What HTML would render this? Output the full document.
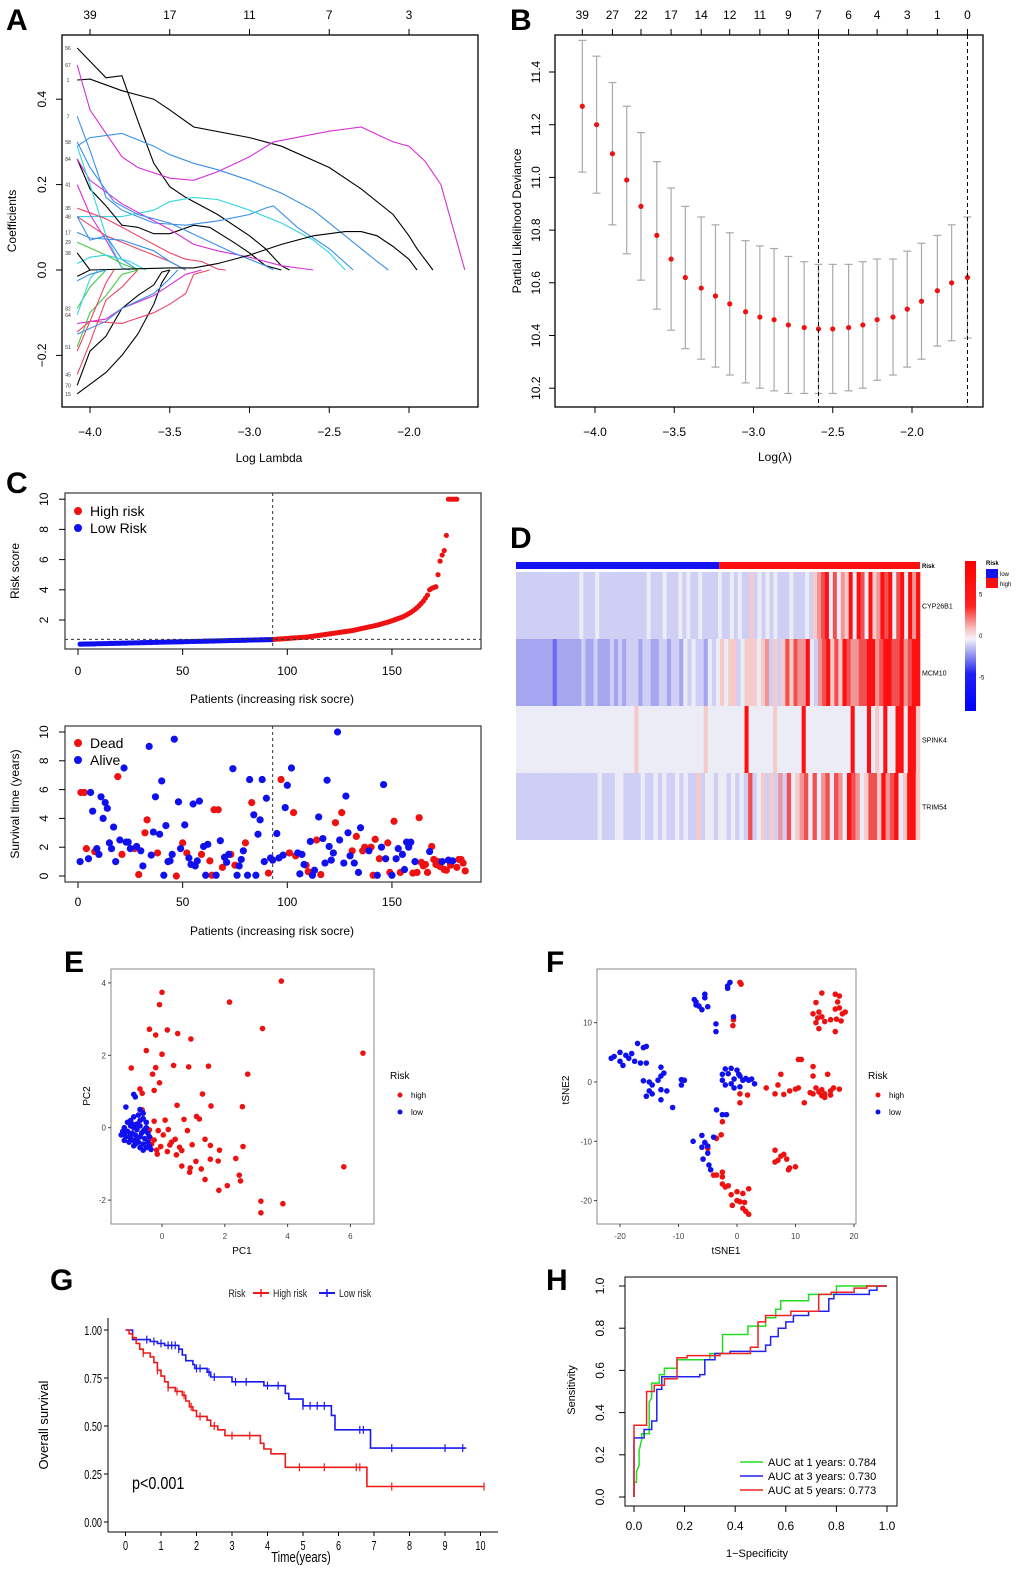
<!DOCTYPE html>
<html><head><meta charset="utf-8"><style>
html,body{margin:0;padding:0;background:#fff}
svg{display:block;font-family:"Liberation Sans",sans-serif}
</style></head><body>
<svg id="fig" width="1020" height="1571" viewBox="0 0 1020 1571" xmlns="http://www.w3.org/2000/svg"></svg>
<script>
// ---------- Panel A data ----------
const aTopLabels=["39","17","11","7","3"];
const aXTicks=[-4.0,-3.5,-3.0,-2.5,-2.0];
const aYTicks=[-0.2,0.0,0.2,0.4];
const aColors=["#000","#000","#d62fd6","#3a8ee8","#3a8ee8","#33d6e0","#000","#d62fd6","#3a8ee8","#d62fd6","#33d6e0","#ee4466","#ee4466","#3a8ee8","#3a8ee8","#44cc44","#33d6e0","#000","#000","#000","#000","#ee4466","#ee4466","#d62fd6","#44cc44","#44cc44","#33d6e0","#3a8ee8","#3a8ee8","#ee4466"];
const aPaths=[
[[-4.08,0.52],[-3.9,0.45],[-3.8,0.455],[-3.7,0.35],[-3.6,0.25],[-3.5,0.195],[-3.4,0.17],[-3.2,0.13],[-3.0,0.08],[-2.9,0.05],[-2.8,0.01],[-2.75,0]],
[[-4.08,0.445],[-4.0,0.447],[-3.8,0.42],[-3.6,0.4],[-3.5,0.375],[-3.35,0.335],[-3.0,0.31],[-2.8,0.29],[-2.5,0.24],[-2.3,0.19],[-2.1,0.13],[-2.0,0.08],[-1.95,0.05],[-1.85,0]],
[[-4.08,0.48],[-4.0,0.375],[-3.9,0.32],[-3.8,0.265],[-3.7,0.24],[-3.5,0.215],[-3.35,0.21],[-3.2,0.23],[-3.0,0.265],[-2.85,0.3],[-2.5,0.325],[-2.3,0.335],[-2.1,0.3],[-2.0,0.29],[-1.9,0.255],[-1.8,0.2],[-1.65,0]],
[[-4.08,0.29],[-4.0,0.31],[-3.8,0.32],[-3.6,0.29],[-3.5,0.27],[-3.35,0.25],[-3.2,0.235],[-3.0,0.21],[-2.8,0.18],[-2.6,0.14],[-2.4,0.08],[-2.3,0.05],[-2.2,0.02],[-2.13,0]],
[[-4.08,0.36],[-4.0,0.28],[-3.9,0.17],[-3.8,0.14],[-3.6,0.11],[-3.4,0.105],[-3.2,0.115],[-3.0,0.13],[-2.9,0.145],[-2.85,0.15],[-2.7,0.1],[-2.5,0.05],[-2.35,0]],
[[-4.08,0.125],[-3.8,0.125],[-3.6,0.14],[-3.5,0.16],[-3.35,0.17],[-3.2,0.165],[-3.0,0.14],[-2.8,0.11],[-2.6,0.07],[-2.5,0.04],[-2.4,0]],
[[-4.08,0.26],[-4.0,0.19],[-3.9,0.15],[-3.8,0.105],[-3.7,0.1],[-3.6,0.085],[-3.5,0.085],[-3.35,0.105],[-3.25,0.1],[-3.1,0.065],[-3.0,0.04],[-2.9,0.01],[-2.8,0]],
[[-4.08,0.26],[-4.0,0.21],[-3.8,0.155],[-3.6,0.115],[-3.5,0.095],[-3.35,0.06],[-3.2,0.045],[-3.0,0.03],[-2.8,0.01],[-2.6,0]],
[[-4.08,0.3],[-4.0,0.24],[-3.85,0.16],[-3.7,0.13],[-3.5,0.11],[-3.3,0.075],[-3.1,0.04],[-2.9,0.01],[-2.85,0]],
[[-4.08,0.2],[-4.0,0.13],[-3.9,0.07],[-3.8,0.005],[-3.75,0]],
[[-4.08,0.29],[-4.0,0.2],[-3.9,0.08],[-3.8,0.005],[-3.75,0]],
[[-4.08,0.145],[-3.9,0.12],[-3.7,0.08],[-3.5,0.04],[-3.4,0.025],[-3.3,0.02],[-3.2,0.002],[-3.15,0]],
[[-4.08,0.125],[-3.9,0.08],[-3.7,0.05],[-3.5,0.02],[-3.4,0]],
[[-4.08,0.088],[-4.0,0.075],[-3.8,0.07],[-3.6,0.045],[-3.5,0.02],[-3.4,0]],
[[-4.08,0.125],[-4.0,0.07],[-3.9,0.08],[-3.8,0.025],[-3.7,0]],
[[-4.08,0.065],[-3.9,0.035],[-3.8,0.015],[-3.7,0]],
[[-4.08,0.015],[-4.0,0.03],[-3.9,0.035],[-3.75,0.02],[-3.65,0]],
[[-4.08,-0.015],[-4.0,0.0],[-3.5,0.005],[-3.35,0.005],[-3.2,0.015],[-3.0,0.035],[-2.8,0.06],[-2.6,0.08],[-2.4,0.09],[-2.3,0.09],[-2.2,0.08],[-2.1,0.055],[-2.0,0.025],[-1.95,0]],
[[-4.08,-0.29],[-3.9,-0.24],[-3.8,-0.2],[-3.7,-0.15],[-3.6,-0.08],[-3.55,-0.03],[-3.5,0]],
[[-4.08,-0.27],[-4.0,-0.19],[-3.9,-0.155],[-3.8,-0.09],[-3.7,-0.06],[-3.6,-0.035],[-3.55,-0.005],[-3.5,0]],
[[-4.08,0.04],[-4.0,0.0]],
[[-4.08,-0.245],[-4.0,-0.17],[-3.9,-0.07],[-3.8,-0.04],[-3.7,0]],
[[-4.08,-0.19],[-4.0,-0.12],[-3.8,-0.125],[-3.6,-0.1],[-3.5,-0.08],[-3.4,-0.055],[-3.35,-0.01],[-3.25,0]],
[[-4.08,-0.125],[-3.9,-0.115],[-3.8,-0.09],[-3.6,-0.06],[-3.5,-0.035],[-3.4,-0.01],[-3.3,0]],
[[-4.08,-0.18],[-4.0,-0.1],[-3.9,-0.06],[-3.8,-0.01],[-3.7,0]],
[[-4.08,-0.09],[-4.0,-0.04],[-3.9,0]],
[[-4.08,-0.105],[-4.0,-0.02],[-3.95,0]],
[[-4.08,-0.15],[-3.9,-0.12],[-3.8,-0.09],[-3.6,-0.055],[-3.5,-0.02],[-3.45,0]],
[[-4.08,-0.025],[-4.0,-0.01],[-3.9,0]],
[[-4.08,-0.145],[-4.0,-0.12],[-3.9,-0.03],[-3.85,0]]
];
const aVarLabels=["56","67","1","7","58","84","41","35","48","17","29","38","82","64","51","45","70","15"];
const aVarVals=[0.52,0.48,0.445,0.36,0.30,0.26,0.2,0.145,0.125,0.088,0.065,0.04,-0.09,-0.105,-0.18,-0.245,-0.27,-0.29];
// ---------- Panel B data ----------
const bLambda=[-4.08,-3.99,-3.89,-3.80,-3.71,-3.61,-3.52,-3.43,-3.33,-3.24,-3.15,-3.05,-2.96,-2.87,-2.78,-2.68,-2.59,-2.50,-2.40,-2.31,-2.22,-2.12,-2.03,-1.94,-1.84,-1.75,-1.65];
const bDev=[11.27,11.20,11.09,10.99,10.89,10.78,10.69,10.62,10.58,10.55,10.52,10.49,10.47,10.46,10.44,10.43,10.425,10.425,10.43,10.44,10.46,10.47,10.50,10.53,10.57,10.60,10.62];
const bSE=[0.25,0.26,0.27,0.28,0.28,0.28,0.27,0.27,0.27,0.27,0.27,0.27,0.27,0.27,0.26,0.25,0.245,0.245,0.24,0.24,0.23,0.22,0.22,0.22,0.21,0.22,0.23];
const bTopLabels=["39","27","22","17","14","12","11","9","7","6","4","3","1","0"];
const bXTicks=[-4.0,-3.5,-3.0,-2.5,-2.0];
const bYTicks=[10.2,10.4,10.6,10.8,11.0,11.2,11.4];
const bMinLambda=-2.59, bSeLambda=-1.65;
// ---------- Panel C data ----------
const cRisk=[0.40,0.40,0.41,0.41,0.41,0.42,0.42,0.42,0.43,0.43,0.43,0.44,0.44,0.44,0.45,0.45,0.45,0.46,0.46,0.46,0.47,0.47,0.47,0.48,0.48,0.48,0.49,0.49,0.49,0.50,0.50,0.50,0.51,0.51,0.51,0.52,0.52,0.52,0.53,0.53,0.53,0.54,0.54,0.54,0.55,0.55,0.55,0.56,0.56,0.56,0.57,0.57,0.57,0.58,0.58,0.58,0.59,0.59,0.59,0.60,0.60,0.60,0.61,0.61,0.61,0.62,0.62,0.62,0.63,0.63,0.63,0.64,0.64,0.64,0.65,0.65,0.65,0.66,0.66,0.66,0.67,0.67,0.67,0.68,0.68,0.68,0.69,0.69,0.69,0.70,0.70,0.70,0.71,
0.72,0.73,0.74,0.75,0.76,0.77,0.78,0.79,0.80,0.81,0.82,0.83,0.84,0.85,0.86,0.87,0.88,0.90,0.92,0.94,0.96,0.98,1.00,1.02,1.04,1.06,1.08,1.10,1.12,1.14,1.16,1.18,1.20,1.22,1.24,1.26,1.28,1.30,1.33,1.36,1.39,1.42,1.45,1.48,1.51,1.54,1.57,1.60,1.63,1.66,1.70,1.74,1.78,1.82,1.86,1.90,1.95,2.00,2.05,2.10,2.15,2.20,2.27,2.34,2.42,2.50,2.60,2.70,2.82,2.95,3.10,3.25,3.45,3.65,4.00,4.10,4.15,4.20,5.00,5.90,6.30,6.60,7.60,10,10,10,10,10];
const cCut=93;
const deadP=[1.4,3,4,8,19,21,27,29,32,33,38,47,50,52,59,63,64,65,67,69,73,75,80,83,91,97,101,103,104,109,110,114,116,123,126,131,133,136,137,140,141,142,144,148,149,151,154,160,162,163,164,165,166,167,169,170,171,172,173,175,176,178,181,182,183,184,185];
const deadT=[5.8,5.8,1.9,1.7,6.9,1.5,1.9,0.1,3.0,3.9,1.6,0,2.3,1.6,1.5,1.05,0.05,4.6,4.6,0.6,1.5,0.75,2.3,5.1,0.2,6.7,1.6,4.4,1.4,0.75,0.3,2.5,0.1,3.7,4.4,1.75,2.75,1.75,2.0,2.0,0.05,2.55,1.2,2.3,0.25,3.8,0.25,0.2,0.25,4.05,0.95,0.7,0.8,0.25,2.05,1.15,0.8,1.0,0.65,0.45,0.4,0.75,0.6,1.15,1.15,0.9,0.35];
const aliveP=[1,5,6,7,9,10,11,12,13,14,15,16,17,18,20,22,23,24,25,28,30,31,34,35,36,37,39,40,41,42,43,44,45,46,48,49,51,53,54,55,56,57,58,60,61,62,66,68,70,71,72,74,76,77,78,79,81,82,84,85,86,87,88,89,90,92,93,95,96,98,99,100,102,105,106,107,108,111,112,113,115,117,118,119,120,121,122,124,125,127,128,129,130,132,134,135,139,143,145,146,147,150,152,153,155,156,157,158,159,161,168,174,177,179];
const aliveT=[1.0,1.2,5.8,4.5,1.9,1.5,5.5,4.0,5.1,4.7,2.3,1.9,3.4,1.0,2.5,7.5,2.35,2.35,1.9,2.05,1.75,0.7,9.0,1.45,3.05,5.5,2.9,6.6,0.05,3.5,1.0,1.05,1.5,9.5,5.15,1.9,3.55,1.25,0.8,5.0,0.7,1.05,5.2,2.05,0.05,2.2,0.05,2.45,1.3,0.95,1.5,7.45,0.05,0.7,1.15,1.75,0.05,6.7,4.25,0.05,2.9,3.9,6.7,1.0,5.4,1.25,1.1,2.95,1.25,1.45,4.75,6.3,7.5,1.6,0.15,1.5,0.8,2.4,0.05,0.4,4.1,2.6,0.9,6.65,2.05,1.1,1.6,10.0,2.5,0.9,5.55,3.0,1.4,0.9,0.25,3.35,1.75,0.05,2.0,6.35,1.2,0.05,1.2,1.9,1.5,0.45,2.35,2.0,2.35,1.0,1.7,1.0,1.1,1.05];
// ---------- Panel D data (level 0..8 per column, 4 = neutral) ----------
const dGenes=["CYP26B1","MCM10","SPINK4","TRIM54"];
const dLevels=[
"3333333333333333433343333333333334333433343433433"+"3343343433534343433343334"+"3567847465848748568784784868",
"2222222221222222322322232323332332233233243433243"+"4545534555456353575766843"+"6785758766778867887786788",
"4444444444444444444444444444454444444444444444544"+"44444448444444544444484444444444484448454844884885",
"333333333333333333343334433334334343343433534434"+"4343437345353637456747467476487645775867845885"];
const dLowFrac=0.503;
const dScaleTicks=[5,0,-5];
// ---------- Panel E data ----------
const eHighX=[3.8,0,-0.08,2.15,3.2,-0.4,0.17,-0.2,0.5,0.92,6.4,-0.5,0,-0.98,-0.2,0.37,0.85,1.48,-0.3,2.73,-0.08,-0.25,-0.7,-0.63,1.29,0.48,1.56,2.56,-0.63,1.1,-0.25,0.1,0.7,1.19,-0.12,0.2,0.81,-0.4,0.04,0.42,1.37,-0.25,-0.33,-0.04,0.25,0.56,0.96,1.54,2.58,-0.15,0.17,0.46,0.63,1.83,1.54,1.08,2.35,1.79,0.63,0.9,1.25,0.88,1.37,2.46,2.5,5.79,2.08,1.81,3.15,3.85,3.15,0.3,-0.17,-0.37];
const eHighY=[4.05,3.74,3.4,3.47,2.74,2.72,2.7,2.56,2.6,2.45,2.06,2.13,2.03,1.65,1.66,1.72,1.68,1.7,1.48,1.48,1.24,1.03,1.07,0.95,0.93,0.62,0.6,0.58,0.49,0.31,0.18,0.21,0.23,0.24,-0.08,-0.05,-0.08,-0.06,-0.2,-0.32,-0.32,-0.34,-0.45,-0.52,-0.48,-0.54,-0.47,-0.49,-0.52,-0.73,-0.66,-0.75,-0.63,-0.62,-0.87,-0.93,-0.85,-0.92,-1.06,-1.11,-1.14,-1.23,-1.43,-1.31,-1.47,-1.08,-1.6,-1.73,-2.03,-2.1,-2.35,-0.4,-0.62,-0.29];
const eLowX=[-0.9,-0.85,-1.15,-0.7,-0.6,-0.75,-0.9,-1.0,-0.6,-0.5,-0.8,-1.0,-1.2,-0.9,-0.7,-0.5,-1.25,-1.1,-0.95,-0.8,-0.6,-0.45,-1.3,-1.15,-1.0,-0.85,-0.7,-0.55,-0.4,-1.2,-1.05,-0.9,-0.75,-0.6,-0.45,-0.9,-0.7,-0.5,-0.35,-0.6,-1.1,-1.2,-0.65,-0.85,-0.55,-0.4,-1.0,-0.8,-0.7,-0.95];
const eLowY=[0.92,0.85,0.57,0.5,0.4,0.35,0.3,0.2,0.25,0.15,0.1,0.05,0,0,0.05,0,-0.1,-0.1,-0.15,-0.05,-0.1,-0.15,-0.2,-0.25,-0.3,-0.2,-0.25,-0.3,-0.25,-0.35,-0.4,-0.35,-0.4,-0.45,-0.4,-0.5,-0.55,-0.55,-0.6,-0.62,0.15,-0.15,-0.15,-0.45,-0.05,-0.5,-0.2,-0.3,0.2,0.1];
const eXTicks=[0,2,4,6], eYTicks=[-2,0,2,4];
// ---------- Panel F data ----------
const fLowX=[-7,-6.5,-7,-5.5,-5.5,-6,-5,-7.3,-1.6,-1.2,-1.6,-3.6,-3.6,-0.6,-21.5,-21,-20,-20,-19.5,-19,-18.5,-18,-17.5,-17,-16.5,-16,-15.5,-15.5,-13,-12.5,-13,-13.5,-15,-14.5,-16,-15,-13,-12,-14.5,-15.5,-13,-11,-9.5,-9,-9.5,-2,-2.5,-2.5,-1.5,-1,-1,-0.5,0,0.3,-2,0.5,1,1.5,2,2.5,3,-0.5,0.5,-3.5,-2.5,-1.8,-7.5,-6,-5.5,-4,-6,-5,-5.8,-4.8,-4.5,-5];
const fLowY=[13.5,12.8,13,14.8,14.2,12.2,12.7,13.9,16.2,16.8,15.8,9.8,8.5,11,4,4.3,5,3.5,2.8,4.5,4,4.8,3.5,6.5,3.2,5.8,6,3.2,2.5,1.5,1,0.3,0,-0.5,0.2,-1.5,-1.3,-1.5,-2,-2.4,-3,-4.3,0.4,0.3,-0.5,2.2,1.3,0.3,1.4,2.3,-0.3,0.5,2,1.3,-0.5,-0.8,0.3,0.6,0.3,0.5,-0.3,-1,1,-4.7,-5.5,-5.5,-10,-9,-10.2,-9.3,-11,-12,-13,-14,-14.8,-10.8];
const fHighX=[14.5,16.8,17.5,13.5,17.2,17.5,16.8,18.5,13,14,14.5,15,16,17,13.5,14,16.8,18,13.8,17.8,0.5,0.7,-0.6,-0.7,0.5,1.8,0.5,5,6.5,7,8,7.5,9,10,10.5,10.5,11,11.5,13,13,13.5,13,14,14.5,15,15.5,16,16.5,17.5,14.5,15,16,12.5,6.5,7.5,8,6.5,7,8.5,9,8.8,10,-3.5,-2.7,-2.5,-5,-4,-3.5,-2.5,-2.5,-2.5,-2,-1,0,1,2,-0.8,0,0.5,1.3,1,1.5,2,-1.5];
const fHighY=[15,14.8,14.5,13.4,13.5,12.5,12.3,11.8,11.5,11.8,11,10.2,10.5,10.6,10,9,8.5,11.5,10.8,10.3,16.8,16.5,10.5,9.5,-2,-2.2,-3.5,-1,-2,-0.5,-2.1,1.3,-1.5,-1.2,-1,3.8,3.8,-3.5,2.6,1,-1,-2,-1.7,-2.3,-2,1.3,-1.5,-1,-1.2,-1.3,-2.6,-2.2,-1.8,-11.5,-12.5,-12.2,-13.5,-13.2,-13,-14.5,-14.8,-14.3,-9.5,-8.9,-6.7,-11.2,-15.7,-15.7,-15.2,-16,-17.2,-17.7,-19,-18.5,-18.8,-18,-20.8,-20,-20.2,-20.3,-21.3,-21.8,-22.3,-17.5];
const fXTicks=[-20,-10,0,10,20], fYTicks=[10,0,-10,-20];
// ---------- Panel G data ----------
const gHighT=[0,0.1,0.2,0.3,0.4,0.5,0.7,0.8,0.9,1.0,1.1,1.2,1.4,1.6,1.7,1.8,1.9,2.0,2.3,2.4,2.6,2.8,3.8,3.9,4.1,4.5,6.8,10.1];
const gHighS=[1,0.98,0.96,0.93,0.9,0.88,0.86,0.83,0.79,0.76,0.73,0.7,0.68,0.66,0.63,0.6,0.58,0.55,0.53,0.5,0.48,0.45,0.41,0.38,0.355,0.285,0.185,0.185];
const gLowT=[0,0.2,0.7,0.9,1.1,1.5,1.6,1.7,1.9,1.95,2.3,2.4,3.0,3.9,4.5,4.6,5.0,5.8,5.9,6.9,9.6];
const gLowS=[1,0.95,0.94,0.93,0.92,0.9,0.87,0.84,0.82,0.8,0.78,0.755,0.73,0.71,0.67,0.64,0.605,0.555,0.48,0.385,0.385];
const gHighCens=[0.5,0.9,1.2,1.45,1.65,1.85,2.1,2.5,3.0,3.5,4.9,5.6,6.5,6.6,7.5,10.1];
const gLowCens=[0.6,0.8,1.0,1.2,1.3,1.4,1.5,2.0,2.1,2.35,2.5,3.1,3.4,4.0,4.3,5.0,5.2,5.4,5.6,6.6,6.7,7.5,9.0,9.5];
const gXTicks=[0,1,2,3,4,5,6,7,8,9,10];
const gYTicks=[0,0.25,0.5,0.75,1.0];
const gYLabels=["0.00","0.25","0.50","0.75","1.00"];
// ---------- Panel H data ----------
const hFpr1=[0,0,0.01,0.01,0.02,0.02,0.03,0.03,0.06,0.06,0.07,0.07,0.1,0.1,0.12,0.12,0.17,0.17,0.3,0.3,0.35,0.35,0.45,0.45,0.52,0.52,0.56,0.56,0.58,0.58,0.69,0.69,0.8,0.8,1];
const hTpr1=[0,0.07,0.07,0.12,0.15,0.22,0.27,0.3,0.3,0.45,0.47,0.54,0.54,0.58,0.58,0.61,0.61,0.65,0.65,0.68,0.68,0.77,0.77,0.81,0.81,0.85,0.85,0.89,0.89,0.93,0.93,0.96,0.96,1,1];
const hFpr3=[0,0,0.04,0.04,0.07,0.07,0.09,0.09,0.11,0.11,0.26,0.26,0.28,0.28,0.32,0.32,0.38,0.38,0.52,0.52,0.54,0.54,0.57,0.57,0.6,0.6,0.63,0.63,0.69,0.69,0.77,0.77,0.79,0.79,0.93,0.93,0.96,0.96,1];
const hTpr3=[0,0.28,0.28,0.32,0.32,0.36,0.36,0.51,0.51,0.57,0.57,0.58,0.58,0.65,0.65,0.68,0.68,0.69,0.69,0.72,0.72,0.76,0.76,0.8,0.8,0.83,0.83,0.86,0.86,0.88,0.88,0.94,0.94,0.96,0.96,0.98,0.98,1,1];
const hFpr5=[0,0,0.05,0.05,0.08,0.08,0.12,0.12,0.17,0.17,0.21,0.21,0.34,0.34,0.46,0.46,0.49,0.49,0.52,0.52,0.62,0.62,0.73,0.73,0.78,0.78,0.87,0.87,0.92,0.92,1];
const hTpr5=[0,0.34,0.34,0.5,0.5,0.53,0.53,0.56,0.56,0.66,0.66,0.67,0.67,0.68,0.68,0.71,0.71,0.83,0.83,0.86,0.86,0.88,0.88,0.96,0.96,0.97,0.97,0.99,0.99,1,1];
const hAUC=["0.784","0.730","0.773"];
const hTicks=[0,0.2,0.4,0.6,0.8,1.0];

// ---------- helpers ----------
const NS="http://www.w3.org/2000/svg";
const svg=document.getElementById('fig');
function el(tag,attrs,name,parent,inter){
  const e=document.createElementNS(NS,tag);
  for(const k in attrs)e.setAttribute(k,attrs[k]);
  
  
  (parent||svg).appendChild(e);return e;
}
function grp(name){return el('g',{},name,svg);}
function txt(x,y,s,size,name,p,extra){
  const a=Object.assign({x:x,y:y,'font-size':size,fill:'#000'},extra||{});
  const t=el('text',a,name,p);t.textContent=s;return t;
}
function line(x1,y1,x2,y2,name,p,stroke,w,dash){
  const a={x1:x1,y1:y1,x2:x2,y2:y2,stroke:stroke||'#000','stroke-width':w||1};
  if(dash)a['stroke-dasharray']=dash;
  return el('line',a,name,p);
}
function rect(x,y,w,h,name,p,fill,stroke,sw){return el('rect',{x:x,y:y,width:w,height:h,fill:fill||'none',stroke:stroke||'none','stroke-width':sw||1},name,p);}
function dot(x,y,r,fill,name,p){return el('circle',{cx:x,cy:y,r:r,fill:fill},name,p);}
function poly(pts,name,p,stroke,w){return el('polyline',{points:pts.map(q=>q[0].toFixed(1)+','+q[1].toFixed(1)).join(' '),fill:'none',stroke:stroke,'stroke-width':w||1},name,p);}
function letter(x,y,s){txt(x,y,s,30,'panel-label-'+s.toLowerCase(),svg,{'font-weight':'bold'});}

// ---------- Panel A ----------
(function(){
  const g=grp('panel-a-coefficient-paths');
  const xA=v=>90+(v+4)*159.5, yA=v=>270-v*427;
  letter(6,30,'A');
  aPaths.forEach((p,i)=>poly(p.map(q=>[xA(q[0]),yA(q[1])]),'coef-path-'+(i+1),g,aColors[i],1.1));
  rect(62,35,416,372,'plot-frame',g,'none','#000',1.3);
  aXTicks.forEach((v,i)=>{line(xA(v),407,xA(v),413,'x-tick',g);txt(xA(v),436,v.toFixed(1).replace('-','\u2212'),12,'x-tick-label',g,{'text-anchor':'middle'});
    line(xA(v),35,xA(v),29,'top-tick',g);txt(xA(v),19,aTopLabels[i],12,'top-tick-label',g,{'text-anchor':'middle'});});
  aYTicks.forEach(v=>{line(62,yA(v),56,yA(v),'y-tick',g);txt(46,yA(v),v.toFixed(1).replace('-','\u2212'),12,'y-tick-label',g,{'text-anchor':'middle',transform:`rotate(-90 46 ${yA(v)})`});});
  aVarLabels.forEach((s,i)=>txt(68,yA(aVarVals[i])+2,s,5,'variable-label',g,{'text-anchor':'middle',fill:'#333'}));
  txt(269,462,'Log Lambda',12,'x-axis-title',g,{'text-anchor':'middle'});
  txt(16,221,'Coefficients',12,'y-axis-title',g,{'text-anchor':'middle',transform:'rotate(-90 16 221)'});
})();

// ---------- Panel B ----------
(function(){
  const g=grp('panel-b-cv-deviance');
  const xB=v=>595+(v+4)*158.5, yB=v=>72+(11.4-v)*263.5;
  letter(510,30,'B');
  bLambda.forEach((l,i)=>{const x=xB(l),t=yB(bDev[i]+bSE[i]),b=yB(bDev[i]-bSE[i]);
    line(x,t,x,b,'error-bar',g,'#aaa',1.2);line(x-4,t,x+4,t,'error-cap',g,'#aaa',1.2);line(x-4,b,x+4,b,'error-cap',g,'#aaa',1.2);});
  bLambda.forEach((l,i)=>dot(xB(l),yB(bDev[i]),2.6,'#ee1111','deviance-point',g));
  line(xB(bMinLambda),35,xB(bMinLambda),407,'lambda-min-line',g,'#000',1,'4,3');
  line(xB(bSeLambda),35,xB(bSeLambda),407,'lambda-1se-line',g,'#000',1,'4,3');
  rect(555,35,428,372,'plot-frame',g,'none','#000',1.3);
  bXTicks.forEach(v=>{line(xB(v),407,xB(v),413,'x-tick',g);txt(xB(v),436,v.toFixed(1).replace('-','\u2212'),12,'x-tick-label',g,{'text-anchor':'middle'});});
  bTopLabels.forEach((s,i)=>{const x=xB(bLambda[i*2]);line(x,35,x,29,'top-tick',g);txt(x,19,s,12,'top-tick-label',g,{'text-anchor':'middle'});});
  bYTicks.forEach(v=>{line(555,yB(v),549,yB(v),'y-tick',g);txt(540,yB(v),v.toFixed(1),12,'y-tick-label',g,{'text-anchor':'middle',transform:`rotate(-90 540 ${yB(v)})`});});
  txt(775,461,'Log(\u03bb)',12,'x-axis-title',g,{'text-anchor':'middle'});
  txt(521,221,'Partial Likelihood Deviance',12,'y-axis-title',g,{'text-anchor':'middle',transform:'rotate(-90 521 221)'});
})();

// ---------- Panel C ----------
(function(){
  const g=grp('panel-c-risk-plots');
  const xC=p=>78+p*2.093, y1=v=>620-(v-2)*15.1, y2=t=>876-t*14.4;
  letter(6,493,'C');
  cRisk.forEach((v,i)=>dot(xC(i+1),y1(v),2.6,i<cCut?'#1010ee':'#ee1111','risk-point',g));
  line(65,y1(0.72),481,y1(0.72),'cutoff-hline',g,'#333',1,'3,3');
  line(xC(cCut),493,xC(cCut),649,'cutoff-vline',g,'#333',1,'3,3');
  rect(65,493,416,156,'risk-frame',g,'none','#444',1.3);
  [2,4,6,8,10].forEach(v=>{line(65,y1(v),59,y1(v),'y-tick',g);txt(48,y1(v),String(v),12,'y-tick-label',g,{'text-anchor':'middle',transform:`rotate(-90 48 ${y1(v)})`});});
  [0,50,100,150].forEach(v=>{line(xC(v),649,xC(v),655,'x-tick',g);txt(xC(v),675,String(v),12,'x-tick-label',g,{'text-anchor':'middle'});
    line(xC(v),882,xC(v),888,'x-tick',g);txt(xC(v),906,String(v),12,'x-tick-label',g,{'text-anchor':'middle'});});
  dot(78,511,4,'#ee1111','legend-high-dot',g);txt(90,516,'High risk',14,'legend-high-label',g);
  dot(78,528,4,'#1010ee','legend-low-dot',g);txt(90,533,'Low Risk',14,'legend-low-label',g);
  txt(272,703,'Patients (increasing risk socre)',12,'x-axis-title',g,{'text-anchor':'middle'});
  txt(19,571,'Risk score',12,'y-axis-title',g,{'text-anchor':'middle',transform:'rotate(-90 19 571)'});
  deadP.forEach((p,i)=>dot(xC(p),y2(deadT[i]),3.6,'#ee1111','dead-point',g));
  aliveP.forEach((p,i)=>dot(xC(p),y2(aliveT[i]),3.6,'#1010ee','alive-point',g));
  line(xC(cCut),726,xC(cCut),882,'cutoff-vline-2',g,'#333',1,'3,3');
  rect(65,726,416,156,'survival-frame',g,'none','#444',1.3);
  [0,2,4,6,8,10].forEach(v=>{line(65,y2(v),59,y2(v),'y-tick',g);txt(48,y2(v),String(v),12,'y-tick-label',g,{'text-anchor':'middle',transform:`rotate(-90 48 ${y2(v)})`});});
  dot(78,743,4,'#ee1111','legend-dead-dot',g);txt(90,748,'Dead',14,'legend-dead-label',g);
  dot(78,760,4,'#1010ee','legend-alive-dot',g);txt(90,765,'Alive',14,'legend-alive-label',g);
  txt(272,935,'Patients (increasing risk socre)',12,'x-axis-title-2',g,{'text-anchor':'middle'});
  txt(19,804,'Survival time (years)',12,'y-axis-title-2',g,{'text-anchor':'middle',transform:'rotate(-90 19 804)'});
})();

// ---------- Panel D ----------
(function(){
  const g=grp('panel-d-heatmap');
  letter(510,548,'D');
  const X0=516,W=404,rowH=67,Y0=572;
  const cols=['#1515f5','#6a6af2','#a6a6f0','#cfcff6','#ececf7','#f7caca','#f29494','#f05050','#ff1010'];
  const lowW=W*dLowFrac;
  rect(X0,562,lowW,7,'risk-bar-low',g,'#1414f0');
  rect(X0+lowW,562,W-lowW,7,'risk-bar-high',g,'#ff1010');
  txt(922,568,'Risk',6,'risk-bar-label',g,{'font-weight':'bold'});
  dLevels.forEach((s,r)=>{const cw=W/s.length;
    for(let i=0;i<s.length;i++){rect(X0+i*cw,Y0+r*rowH,cw+0.3,rowH,'heat-cell',g,cols[+s[i]]);}
    txt(922,Y0+r*rowH+rowH/2+3,dGenes[r],7,'gene-label',g);});
  const grad=el('linearGradient',{id:'hg',x1:0,y1:0,x2:0,y2:1},'color-scale-gradient',svg);
  [['0','#ff0000'],['0.3','#ff2020'],['0.45','#f7c0c0'],['0.52','#f3f3f8'],['0.62','#9a9af0'],['0.75','#2020f5'],['1','#0000ff']].forEach(q=>el('stop',{offset:q[0],'stop-color':q[1]},'gradient-stop',grad));
  rect(965,561,11,150,'color-scale',g,'url(#hg)');
  const ys=v=>636-v*8.3;
  dScaleTicks.forEach(v=>txt(979,ys(v)+2,String(v),6,'color-scale-label',g));
  txt(986,565,'Risk',6,'legend-title',g,{'font-weight':'bold'});
  rect(986,569,12,9,'legend-low-swatch',g,'#1414f0');txt(1000,576,'low',6,'legend-low-label',g);
  rect(986,578,12,10,'legend-high-swatch',g,'#ff1010');txt(1000,586,'high',6,'legend-high-label',g);
})();

// ---------- Panel E ----------
(function(){
  const g=grp('panel-e-pca');
  letter(64,972,'E');
  const xE=v=>162+v*31.4, yE=v=>1127.7-v*36.2;
  eHighX.forEach((v,i)=>dot(xE(v),yE(eHighY[i]),2.8,'#ee1111','pca-high-point',g));
  eLowX.forEach((v,i)=>dot(xE(v),yE(eLowY[i]),2.8,'#1010ee','pca-low-point',g));
  rect(111,969,263,255,'plot-frame',g,'none','#888',1);
  eXTicks.forEach(v=>{line(xE(v),1224,xE(v),1227,'x-tick',g,'#444');txt(xE(v),1239,String(v),8,'x-tick-label',g,{'text-anchor':'middle',fill:'#444'});});
  eYTicks.forEach(v=>{line(111,yE(v),108,yE(v),'y-tick',g,'#444');txt(106,yE(v)+3,String(v),8,'y-tick-label',g,{'text-anchor':'end',fill:'#444'});});
  txt(242,1254,'PC1',10,'x-axis-title',g,{'text-anchor':'middle'});
  txt(90,1096,'PC2',10,'y-axis-title',g,{'text-anchor':'middle',transform:'rotate(-90 90 1096)'});
  txt(390,1079,'Risk',10,'legend-title',g);
  dot(400,1095,2.5,'#ee1111','legend-high-dot',g);txt(411,1098,'high',8,'legend-high-label',g);
  dot(400,1112,2.5,'#1010ee','legend-low-dot',g);txt(411,1115,'low',8,'legend-low-label',g);
})();

// ---------- Panel F ----------
(function(){
  const g=grp('panel-f-tsne');
  letter(546,972,'F');
  const xF=v=>737+v*5.85, yF=v=>1082-v*5.93;
  fHighX.forEach((v,i)=>dot(xF(v),yF(fHighY[i]),2.8,'#ee1111','tsne-high-point',g));
  fLowX.forEach((v,i)=>dot(xF(v),yF(fLowY[i]),2.8,'#1010ee','tsne-low-point',g));
  rect(597,969,259,255,'plot-frame',g,'none','#888',1);
  fXTicks.forEach(v=>{line(xF(v),1224,xF(v),1227,'x-tick',g,'#444');txt(xF(v),1239,String(v),8,'x-tick-label',g,{'text-anchor':'middle',fill:'#444'});});
  fYTicks.forEach(v=>{line(597,yF(v),594,yF(v),'y-tick',g,'#444');txt(592,yF(v)+3,String(v),8,'y-tick-label',g,{'text-anchor':'end',fill:'#444'});});
  txt(726,1254,'tSNE1',10,'x-axis-title',g,{'text-anchor':'middle'});
  txt(569,1090,'tSNE2',10,'y-axis-title',g,{'text-anchor':'middle',transform:'rotate(-90 569 1090)'});
  txt(868,1079,'Risk',10,'legend-title',g);
  dot(878,1095,2.5,'#ee1111','legend-high-dot',g);txt(889,1098,'high',8,'legend-high-label',g);
  dot(878,1112,2.5,'#1010ee','legend-low-dot',g);txt(889,1115,'low',8,'legend-low-label',g);
})();

// ---------- Panel G ----------
(function(){
  const g=grp('panel-g-kaplan-meier');
  letter(50,1290,'G');
  const xG=t=>125.5+t*35.5, yG=s=>1522-s*192;
  function steps(T,S){const pts=[];for(let i=0;i<T.length;i++){if(i>0)pts.push([xG(T[i]),yG(S[i-1])]);pts.push([xG(T[i]),yG(S[i])]);}return pts;}
  function survAt(T,S,t){let s=S[0];for(let i=0;i<T.length;i++){if(T[i]<=t)s=S[i];}return s;}
  poly(steps(gLowT,gLowS),'low-risk-curve',g,'#1a1aee',1.6);
  poly(steps(gHighT,gHighS),'high-risk-curve',g,'#ee1a1a',1.6);
  gLowCens.forEach(t=>{const x=xG(t),y=yG(survAt(gLowT,gLowS,t));line(x,y-4,x,y+4,'low-censor-mark',g,'#1a1aee',1.2);});
  gHighCens.forEach(t=>{const x=xG(t),y=yG(survAt(gHighT,gHighS,t));line(x,y-4,x,y+4,'high-censor-mark',g,'#ee1a1a',1.2);});
  line(108,1318,108,1532,'y-axis-line',g,'#000',1);
  line(108,1532,498,1532,'x-axis-line',g,'#000',1);
  gXTicks.forEach(v=>{line(xG(v),1532,xG(v),1536,'x-tick',g);txt(xG(v),1550,String(v),13,'x-tick-label',g,{'text-anchor':'middle',transform:`translate(${xG(v)} 0) scale(0.7 1) translate(${-xG(v)} 0)`});});
  gYTicks.forEach((v,i)=>{line(108,yG(v),104,yG(v),'y-tick',g);txt(102,yG(v)+5,gYLabels[i],13,'y-tick-label',g,{'text-anchor':'end',transform:`translate(102 0) scale(0.7 1) translate(-102 0)`});});
  txt(301,1562,'Time(years)',15,'x-axis-title',g,{'text-anchor':'middle',transform:'translate(301 0) scale(0.75 1) translate(-301 0)'});
  txt(48,1425,'Overall survival',13,'y-axis-title',g,{'text-anchor':'middle',transform:'rotate(-90 48 1425)'});
  txt(132,1489,'p<0.001',18,'p-value',g,{transform:'translate(132 0) scale(0.8 1) translate(-132 0)'});
  txt(237,1297,'Risk',11,'legend-title',g,{'text-anchor':'middle',fill:'#222',transform:'translate(237 0) scale(0.8 1) translate(-237 0)'});
  line(253,1293,269,1293,'legend-high-line',g,'#ee1a1a',2);line(261,1289,261,1297,'legend-high-mark',g,'#ee1a1a',1.5);
  txt(273,1297,'High risk',11,'legend-high-label',g,{fill:'#222',transform:'translate(273 0) scale(0.8 1) translate(-273 0)'});
  line(319,1293,335,1293,'legend-low-line',g,'#1a1aee',2);line(327,1289,327,1297,'legend-low-mark',g,'#1a1aee',1.5);
  txt(339,1297,'Low risk',11,'legend-low-label',g,{fill:'#222',transform:'translate(339 0) scale(0.8 1) translate(-339 0)'});
})();

// ---------- Panel H ----------
(function(){
  const g=grp('panel-h-roc');
  letter(546,1290,'H');
  const xH=v=>634+v*253, yH=v=>1497-v*211;
  const curves=[[hFpr1,hTpr1,'#22dd22','roc-1-year'],[hFpr3,hTpr3,'#2222ee','roc-3-year'],[hFpr5,hTpr5,'#ee2222','roc-5-year']];
  curves.forEach(c=>poly(c[0].map((f,i)=>[xH(f),yH(c[1][i])]),c[3],g,c[2],1.5));
  rect(625,1277,272,229,'plot-frame',g,'none','#000',1);
  hTicks.forEach(v=>{line(xH(v),1506,xH(v),1512,'x-tick',g);txt(xH(v),1530,v.toFixed(1),12,'x-tick-label',g,{'text-anchor':'middle'});
    line(625,yH(v),619,yH(v),'y-tick',g);txt(604,yH(v),v.toFixed(1),12,'y-tick-label',g,{'text-anchor':'middle',transform:`rotate(-90 604 ${yH(v)})`});});
  txt(757,1557,'1\u2212Specificity',11,'x-axis-title',g,{'text-anchor':'middle'});
  txt(575,1390,'Sensitivity',11,'y-axis-title',g,{'text-anchor':'middle',transform:'rotate(-90 575 1390)'});
  const years=["1","3","5"];
  curves.forEach((c,i)=>{const y=1462+i*14;line(740,y,763,y,'legend-line',g,c[2],1.5);
    txt(768,y+4,'AUC at '+years[i]+' years: '+hAUC[i],11,'legend-label',g);});
})();
</script>
</body></html>
